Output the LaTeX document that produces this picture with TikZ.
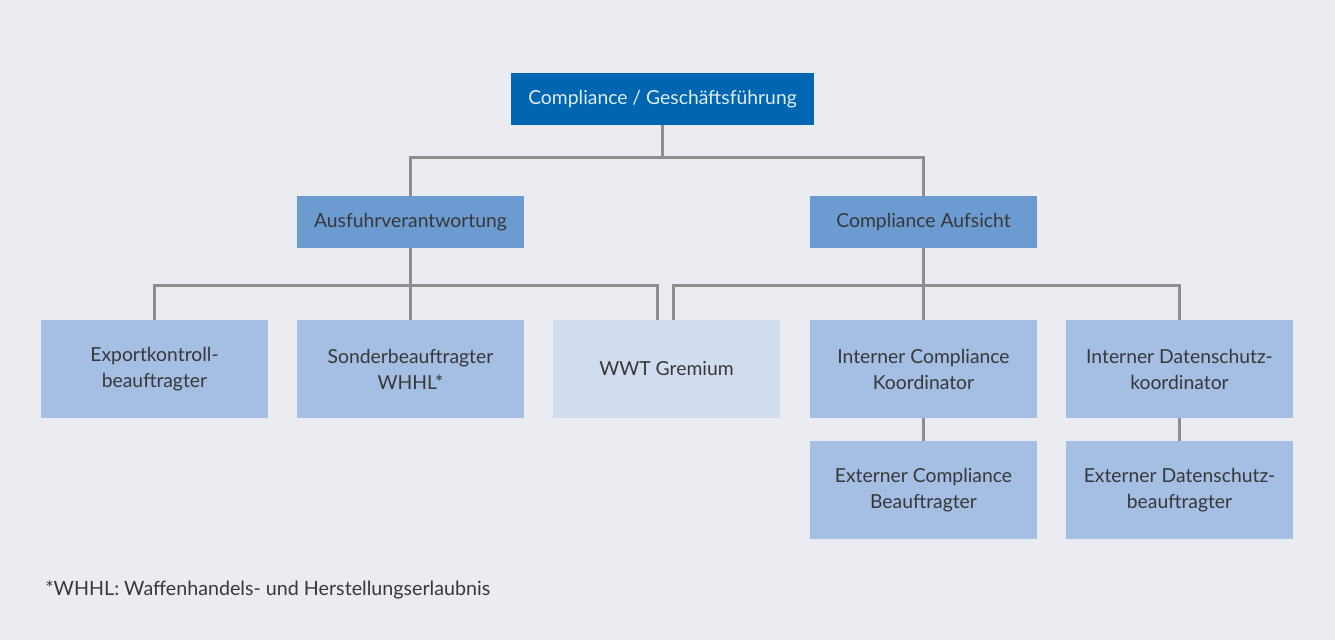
\documentclass[tikz,border=0pt]{standalone}
\usepackage{fontspec}
\setmainfont{Lato}
\usetikzlibrary{calc}
\definecolor{bgcol}{HTML}{EBECF1}
\definecolor{topblue}{HTML}{0066B1}
\definecolor{midblue}{HTML}{6C9BD2}
\definecolor{lightblue}{HTML}{A4BEE4}
\definecolor{paleblue}{HTML}{D1DDEF}
\definecolor{linegrey}{HTML}{8E8E90}
\definecolor{txtgrey}{HTML}{383838}
\tikzset{
  box/.style={minimum width=4.54cm, inner sep=0pt, align=center,
    text=txtgrey, font=\fontsize{11}{14.8}\selectfont},
  topbox/.style={box, fill=topblue, text=white!88!topblue, minimum width=6.06cm, minimum height=1.04cm},
  headbox/.style={box, fill=midblue, minimum height=1.04cm},
  unitbox/.style={box, fill=lightblue, minimum height=1.96cm},
  gremiumbox/.style={box, fill=paleblue, minimum height=1.96cm},
  conn/.style={draw=linegrey, line width=1.7pt}
}
\begin{document}
\begin{tikzpicture}[x=0.02cm, y=-0.02cm]
  \fill[bgcol] (0,0) rectangle (1335,640);
  \useasboundingbox (0,0) rectangle (1335,640);
  % top level
  \node[topbox] (gf) at (662.5,99) {Compliance / Geschäftsführung};
  % second level
  \node[headbox] (ausf) at (410.5,222) {Ausfuhrverantwortung};
  \node[headbox] (aufs) at (923.5,222) {Compliance Aufsicht};
  % third level
  \node[unitbox] (export) at (154.5,369) {Exportkontroll-\\beauftragter};
  \node[unitbox] (sonder) at (410.5,369) {Sonderbeauftragter\\WHHL*};
  \node[gremiumbox] (wwt) at (666.5,369) {WWT Gremium};
  \node[unitbox] (intcomp) at (923.5,369) {Interner Compliance\\Koordinator};
  \node[unitbox] (intdat) at (1179.5,369) {Interner Datenschutz-\\koordinator};
  % fourth level
  \node[unitbox] (extcomp) at (923.5,490) {Externer Compliance\\Beauftragter};
  \node[unitbox] (extdat) at (1179.5,490) {Externer Datenschutz-\\beauftragter};
  \coordinate (wwtL) at ($(wwt.north)+(-9.5,0)$);
  \coordinate (wwtR) at ($(wwt.north)+(6.5,0)$);
  % connectors
  \draw[conn] (gf.south) -- ++(0,32) -| (ausf.north);
  \draw[conn] (gf.south) -- ++(0,32) -| (aufs.north);
  \draw[conn] (ausf.south) -- ++(0,37) -| (export.north);
  \draw[conn] (ausf.south) -- (sonder.north);
  \draw[conn] (ausf.south) -- ++(0,37) -| (wwtL);
  \draw[conn] (aufs.south) -- (intcomp.north);
  \draw[conn] (aufs.south) -- ++(0,37) -| (intdat.north);
  \draw[conn] (aufs.south) -- ++(0,37) -| (wwtR);
  \draw[conn] (intcomp.south) -- (extcomp.north);
  \draw[conn] (intdat.south) -- (extdat.north);
  % footnote
  \node[anchor=west, text=txtgrey, font=\fontsize{11.2}{14}\selectfont, inner sep=0pt] (note) at (45,590)
    {*WHHL: Waffenhandels- und Herstellungserlaubnis};
\end{tikzpicture}
\end{document}
